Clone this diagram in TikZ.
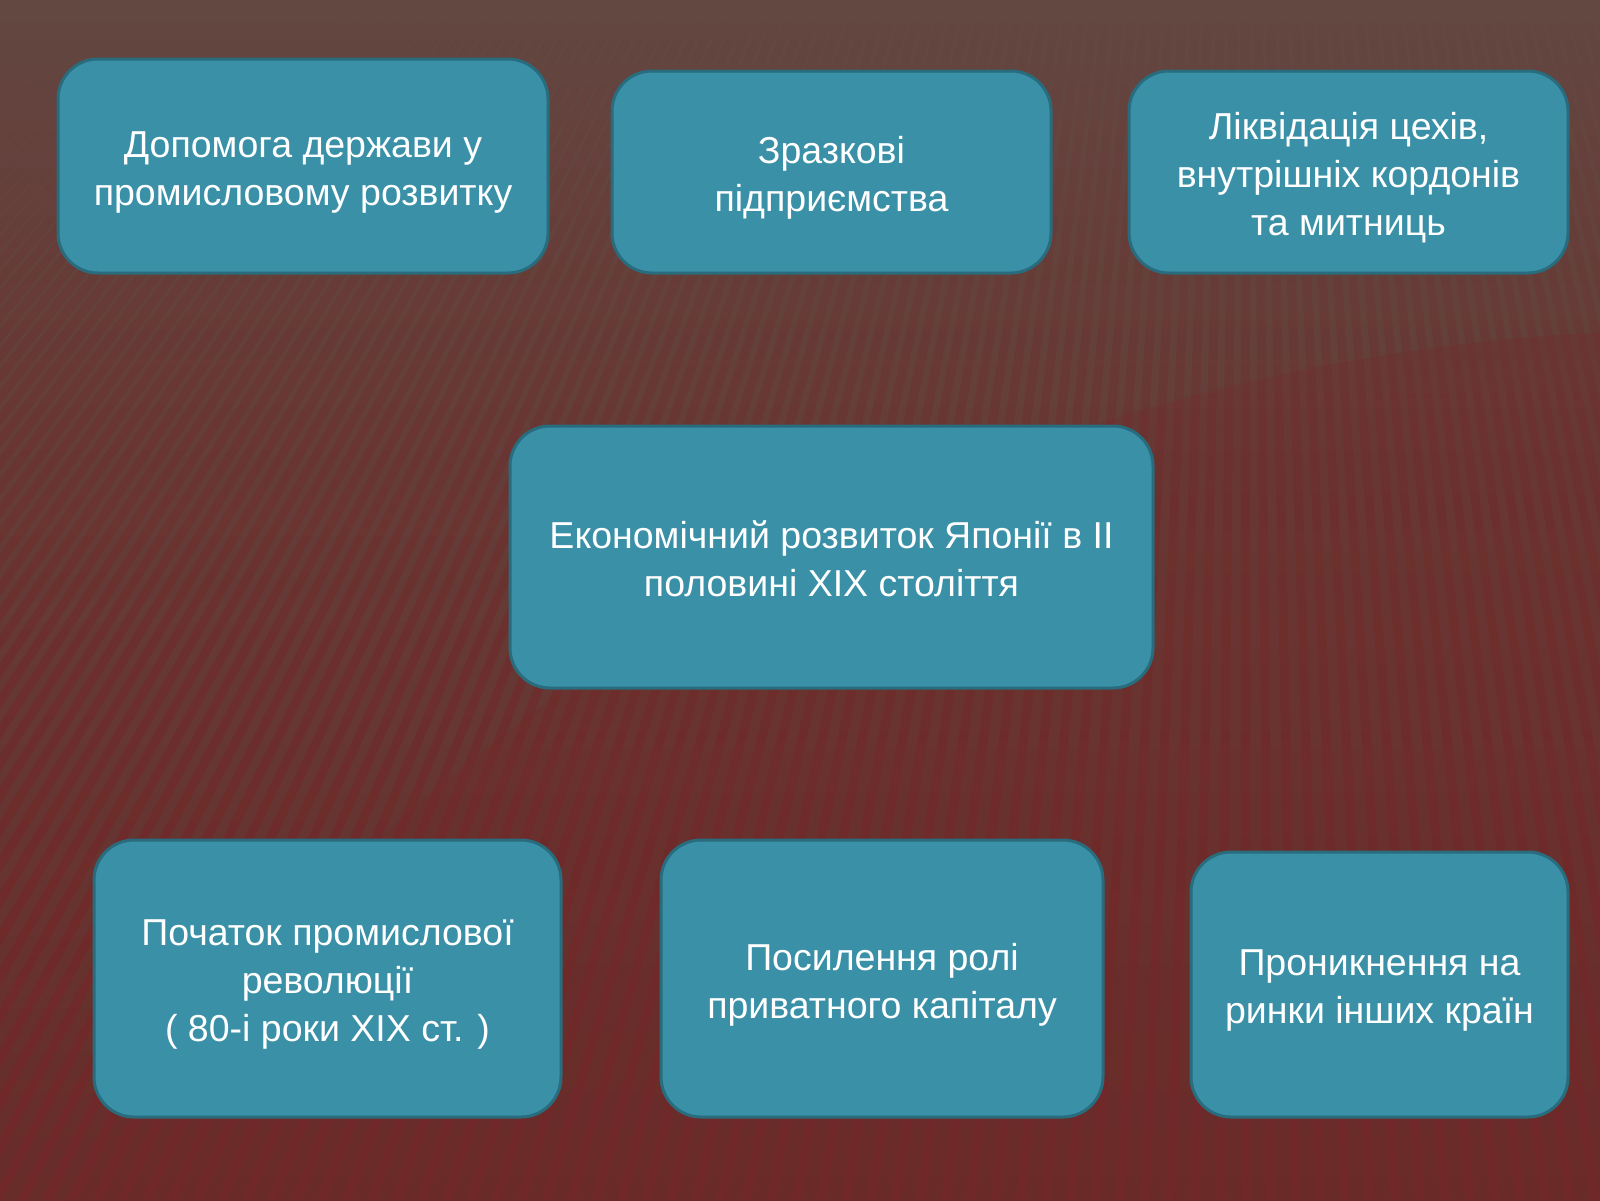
\documentclass[tikz,border=0pt]{standalone}
\usepackage{fontspec}
\setmainfont{Liberation Sans}
\usetikzlibrary{fadings}
\definecolor{bgtop}{RGB}{99,72,66}
\definecolor{bgmid}{RGB}{100,64,58}
\definecolor{bgbot}{RGB}{104,44,41}
\definecolor{stripe}{RGB}{114,40,40}
\definecolor{boxfill}{RGB}{58,144,167}
\definecolor{boxline}{RGB}{40,108,126}
\tikzfading[name=stripefade, top color=transparent!100, middle color=transparent!20, bottom color=transparent!10]
\tikzset{
  card/.style={draw=boxline, line width=3pt, fill=boxfill, rounded corners=40pt,
    inner sep=0pt},
  cardtext/.style={inner sep=0pt, align=center, text=white,
    font=\fontsize{37.5}{48}\selectfont},
}
\begin{document}
\begin{tikzpicture}[x=1pt,y=-1pt]
  \useasboundingbox (0,0) rectangle (1600,1200);
  % background
  \shade[top color=bgtop, middle color=bgmid, bottom color=bgbot] (0,0) rectangle (1600,1200);
  \begin{scope}
    \clip (0,0) rectangle (1600,1200);
    \fill[stripe, opacity=0.25] (1700,2300) circle[radius=1970];
    \draw[stripe, line width=9pt, path fading=stripefade]
      foreach \xb in {-1300,-1275,...,2000} { ({1250+(\xb-1250)/2},0) -- (\xb,1200) };
  \end{scope}
  % boxes
  \node[card, minimum width=490pt, minimum height=214pt] (b1) at (303,166) {};
  \node[card, minimum width=439pt, minimum height=202pt] (b2) at (831.5,172) {};
  \node[card, minimum width=439pt, minimum height=202pt] (b3) at (1348.5,172) {};
  \node[card, minimum width=643pt, minimum height=262pt] (c) at (831.5,557) {};
  \node[card, minimum width=467pt, minimum height=277pt] (b4) at (327.5,978.5) {};
  \node[card, minimum width=442pt, minimum height=277pt] (b5) at (882,978.5) {};
  \node[card, minimum width=377pt, minimum height=265pt] (b6) at (1379.5,984.5) {};
  % texts
  \node[cardtext] (t1) at ([yshift=-6pt]b1.center) {Допомога держави у\\промисловому розвитку};
  \node[cardtext] (t2) at ([yshift=-6pt]b2.center) {Зразкові\\підприємства};
  \node[cardtext] (t3) at ([yshift=-6pt]b3.center) {Ліквідація цехів,\\внутрішніх кордонів\\та митниць};
  \node[cardtext] (tc) at ([yshift=-2pt]c.center) {Економічний розвиток Японії в II\\половині XIX століття};
  \node[cardtext] (t4) at ([yshift=-6pt]b4.center) {Початок промислової\\революції\\( 80-і роки XIX ст. )};
  \node[cardtext] (t5) at ([yshift=-6pt]b5.center) {Посилення ролі\\приватного капіталу};
  \node[cardtext] (t6) at ([yshift=-6pt]b6.center) {Проникнення на\\ринки інших країн};
\end{tikzpicture}
\end{document}
